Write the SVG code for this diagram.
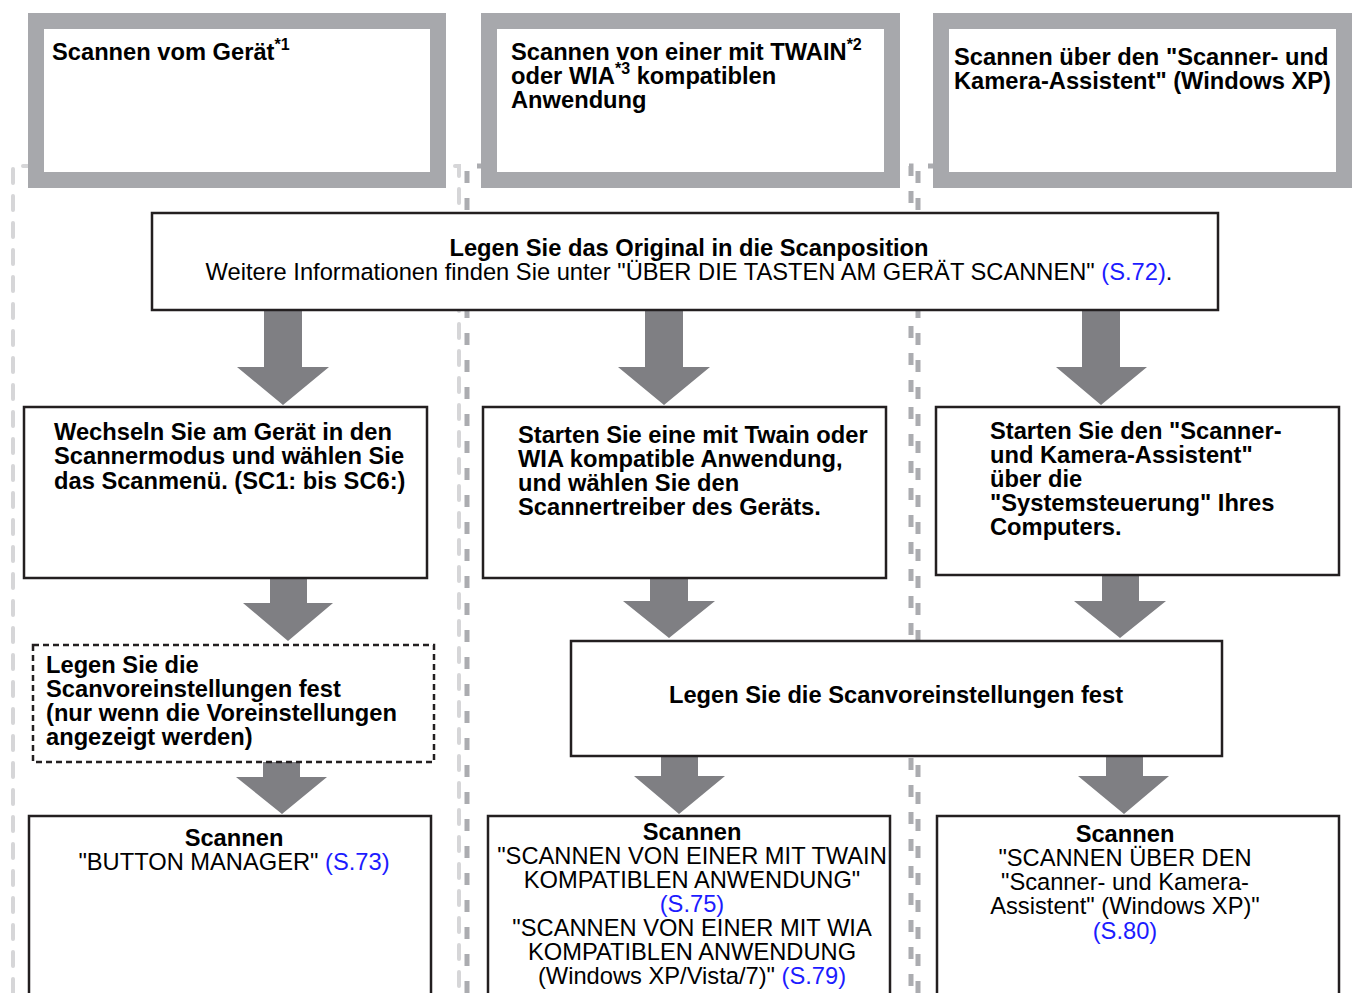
<svg xmlns="http://www.w3.org/2000/svg" width="1356" height="993" viewBox="0 0 1356 993">
  <style>
    .b { font-family: "Liberation Sans", Arial, Helvetica, sans-serif; font-weight: bold; font-size: 23.7px; fill: #000; }
    .r { font-family: "Liberation Sans", Arial, Helvetica, sans-serif; font-size: 23.7px; fill: #000; }
    .sup { font-size: 16px; }
    .lnk { fill: #1c1cff; }
    .c { text-anchor: middle; }
    .hdr { fill: #fff; stroke: #a7a8ac; stroke-width: 16; }
    .box { fill: #fff; stroke: #231f20; stroke-width: 2.5; }
    .dbox { fill: #fff; stroke: #231f20; stroke-width: 2.5; stroke-dasharray: 6 4; }
    .lane1 { fill: none; stroke: #d6d6d8; stroke-width: 4; stroke-linecap: round; stroke-dasharray: 14 13; }
    .lane2 { fill: none; stroke: #abacb0; stroke-width: 5; stroke-dasharray: 12 15; }
    .arrow { fill: #7f7f83; }
  </style>

  <!-- column lanes -->
  <g id="lanes">
    <path class="lane1" d="M13,993 V166 H459 V993"/>
    <path class="lane2" d="M467,993 V166 H911 V993"/>
    <path class="lane2" d="M918,993 V166 H1360"/>
  </g>

  <!-- column headers -->
  <g id="header-device">
    <rect class="hdr" x="36" y="21" width="402" height="159"/>
    <text class="b" x="52" y="60">Scannen vom Gerät<tspan class="sup" dy="-10">*1</tspan></text>
  </g>
  <g id="header-twain">
    <rect class="hdr" x="489" y="21" width="403" height="159"/>
    <text class="b" x="511" y="60">Scannen von einer mit TWAIN<tspan class="sup" dy="-10">*2</tspan></text>
    <text class="b" x="511" y="84">oder WIA<tspan class="sup" dy="-10">*3</tspan><tspan dy="10"> kompatiblen</tspan></text>
    <text class="b" x="511" y="108">Anwendung</text>
  </g>
  <g id="header-wizard">
    <rect class="hdr" x="941" y="21" width="403" height="159"/>
    <text class="b" x="954" y="65">Scannen über den "Scanner- und</text>
    <text class="b" x="954" y="89">Kamera-Assistent" (Windows XP)</text>
  </g>

  <!-- connectors -->
  <g id="connectors">
    <path class="arrow" d="M264,310 H302 V367 H329 L283,405 L237,367 H264 Z"/>
    <path class="arrow" d="M645,310 H683 V367 H710 L664,405 L618,367 H645 Z"/>
    <path class="arrow" d="M1082,310 H1120 V367 H1147 L1101,405 L1056,367 H1082 Z"/>
    <path class="arrow" d="M270,578 H307 V603 H333 L288,641 L243,603 H270 Z"/>
    <path class="arrow" d="M263,762 H300 V777 H327 L282,814 L236,777 H263 Z"/>
    <path class="arrow" d="M650,578 H688 V601 H715 L669,638 L623,601 H650 Z"/>
    <path class="arrow" d="M1102,575 H1139 V601 H1166 L1120,638 L1074,601 H1102 Z"/>
    <path class="arrow" d="M661,756 H698 V776 H725 L679,814 L634,776 H661 Z"/>
    <path class="arrow" d="M1106,756 H1143 V776 H1169 L1124,814 L1078,776 H1106 Z"/>
  </g>

  <!-- shared first step -->
  <g id="place-original">
    <rect class="box" x="152" y="213" width="1066" height="97"/>
    <text class="b c" x="689" y="256">Legen Sie das Original in die Scanposition</text>
    <text class="r c" x="689" y="280">Weitere Informationen finden Sie unter "ÜBER DIE TASTEN AM GERÄT SCANNEN" <tspan class="lnk">(S.72)</tspan>.</text>
  </g>

  <!-- second step per column -->
  <g id="device-mode">
    <rect class="box" x="24" y="407" width="403" height="171"/>
    <text class="b" x="54" y="440">Wechseln Sie am Gerät in den</text>
    <text class="b" x="54" y="464">Scannermodus und wählen Sie</text>
    <text class="b" x="54" y="489">das Scanmenü. (SC1: bis SC6:)</text>
  </g>
  <g id="start-app">
    <rect class="box" x="483" y="407" width="403" height="171"/>
    <text class="b" x="518" y="443">Starten Sie eine mit Twain oder</text>
    <text class="b" x="518" y="467">WIA kompatible Anwendung,</text>
    <text class="b" x="518" y="491">und wählen Sie den</text>
    <text class="b" x="518" y="515">Scannertreiber des Geräts.</text>
  </g>
  <g id="start-wizard">
    <rect class="box" x="936" y="407" width="403" height="168"/>
    <text class="b" x="990" y="439">Starten Sie den "Scanner-</text>
    <text class="b" x="990" y="463">und Kamera-Assistent"</text>
    <text class="b" x="990" y="487">über die</text>
    <text class="b" x="990" y="511">"Systemsteuerung" Ihres</text>
    <text class="b" x="990" y="535">Computers.</text>
  </g>

  <!-- scan settings -->
  <g id="settings-device">
    <rect class="dbox" x="33" y="645" width="401" height="117"/>
    <text class="b" x="46" y="673">Legen Sie die</text>
    <text class="b" x="46" y="697">Scanvoreinstellungen fest</text>
    <text class="b" x="46" y="721">(nur wenn die Voreinstellungen</text>
    <text class="b" x="46" y="745">angezeigt werden)</text>
  </g>
  <g id="settings-pc">
    <rect class="box" x="571" y="641" width="651" height="115"/>
    <text class="b c" x="896" y="703">Legen Sie die Scanvoreinstellungen fest</text>
  </g>

  <!-- scanning -->
  <g id="scan-device">
    <rect class="box" x="29" y="816" width="402" height="190"/>
    <text class="b c" x="234" y="846">Scannen</text>
    <text class="r c" x="234" y="870">"BUTTON MANAGER" <tspan class="lnk">(S.73)</tspan></text>
  </g>
  <g id="scan-app">
    <rect class="box" x="488" y="816" width="402" height="190"/>
    <text class="b c" x="692" y="840">Scannen</text>
    <text class="r c" x="692" y="864">"SCANNEN VON EINER MIT TWAIN</text>
    <text class="r c" x="692" y="888">KOMPATIBLEN ANWENDUNG"</text>
    <text class="r c lnk" x="692" y="912">(S.75)</text>
    <text class="r c" x="692" y="936">"SCANNEN VON EINER MIT WIA</text>
    <text class="r c" x="692" y="960">KOMPATIBLEN ANWENDUNG</text>
    <text class="r c" x="692" y="984">(Windows XP/Vista/7)" <tspan class="lnk">(S.79)</tspan></text>
  </g>
  <g id="scan-wizard">
    <rect class="box" x="937" y="816" width="402" height="190"/>
    <text class="b c" x="1125" y="842">Scannen</text>
    <text class="r c" x="1125" y="866">"SCANNEN ÜBER DEN</text>
    <text class="r c" x="1125" y="890">"Scanner- und Kamera-</text>
    <text class="r c" x="1125" y="914">Assistent" (Windows XP)"</text>
    <text class="r c lnk" x="1125" y="939">(S.80)</text>
  </g>
</svg>
